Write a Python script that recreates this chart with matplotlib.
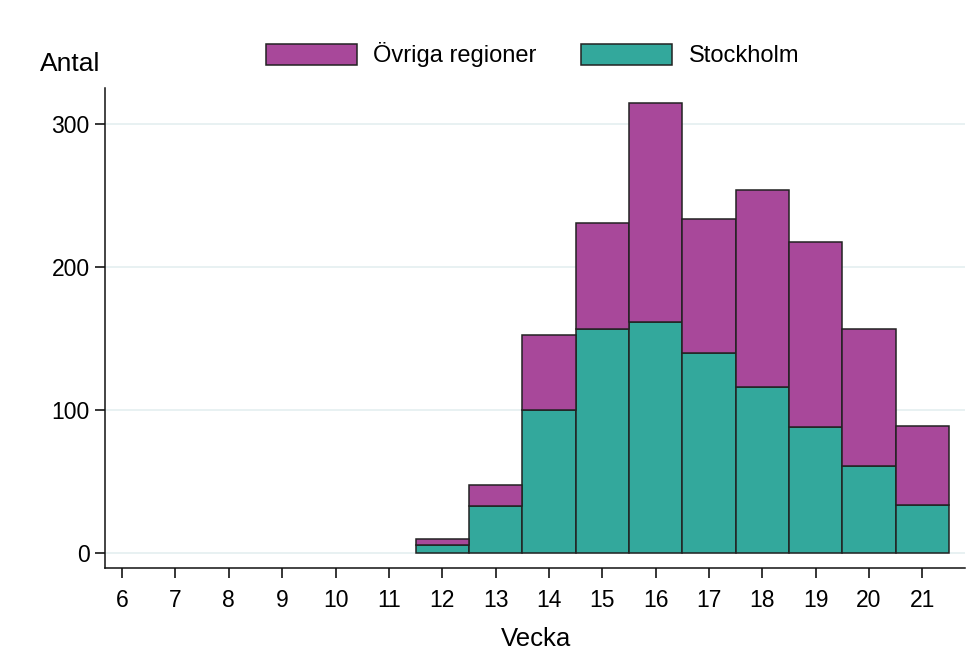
import numpy as np
import matplotlib.pyplot as plt

plt.rcParams['font.family'] = ['Liberation Sans', 'DejaVu Sans']

# Data: weekly counts
veckor = [12, 13, 14, 15, 16, 17, 18, 19, 20, 21]
stockholm = [6, 33, 100, 157, 162, 140, 116, 88, 61, 34]
ovriga = [4, 15, 53, 74, 153, 94, 138, 130, 96, 55]
x_ticks = list(range(6, 22))
y_ticks = [0, 100, 200, 300]

lila = '#A8489A'
turkos = '#33A89C'
kant = '#222222'

fig = plt.figure(figsize=(9.79, 6.62), dpi=100)
ax = fig.add_axes([0.1073, 0.142, 0.8784, 0.725])

ax.bar(veckor, stockholm, width=1.0, color=turkos, edgecolor=kant,
       linewidth=1.1, label='Stockholm', zorder=3)
ax.bar(veckor, ovriga, width=1.0, bottom=stockholm, color=lila,
       edgecolor=kant, linewidth=1.1, label='Övriga regioner', zorder=3)

ax.set_xlim(5.68, 21.8)
ax.set_ylim(-10.3, 325.4)
ax.set_xticks(x_ticks)
ax.set_yticks(y_ticks)

for s in ['top', 'right']:
    ax.spines[s].set_visible(False)
for s in ['left', 'bottom']:
    ax.spines[s].set_linewidth(1.1)
    ax.spines[s].set_color('#111111')

ax.yaxis.grid(True, color='#E6F0F1', linewidth=1.3, zorder=0)
ax.set_axisbelow(True)
ax.tick_params(axis='x', length=7, width=1.1, pad=8, labelsize=16.5)
ax.tick_params(axis='y', length=7, width=1.1, pad=4, labelsize=16.5)

fig.text(0.041, 0.903, 'Antal', fontsize=19, ha='left', va='center')
fig.text(0.548, 0.035, 'Vecka', fontsize=18.5, ha='center', va='center')

h, l = ax.get_legend_handles_labels()
fig.legend(h[::-1], l[::-1], loc='center', bbox_to_anchor=(0.544, 0.917),
           ncol=2, frameon=False, fontsize=17, handlelength=3.85,
           handleheight=1.0, columnspacing=1.9, handletextpad=0.7)

fig.savefig('out.png', dpi=100)
